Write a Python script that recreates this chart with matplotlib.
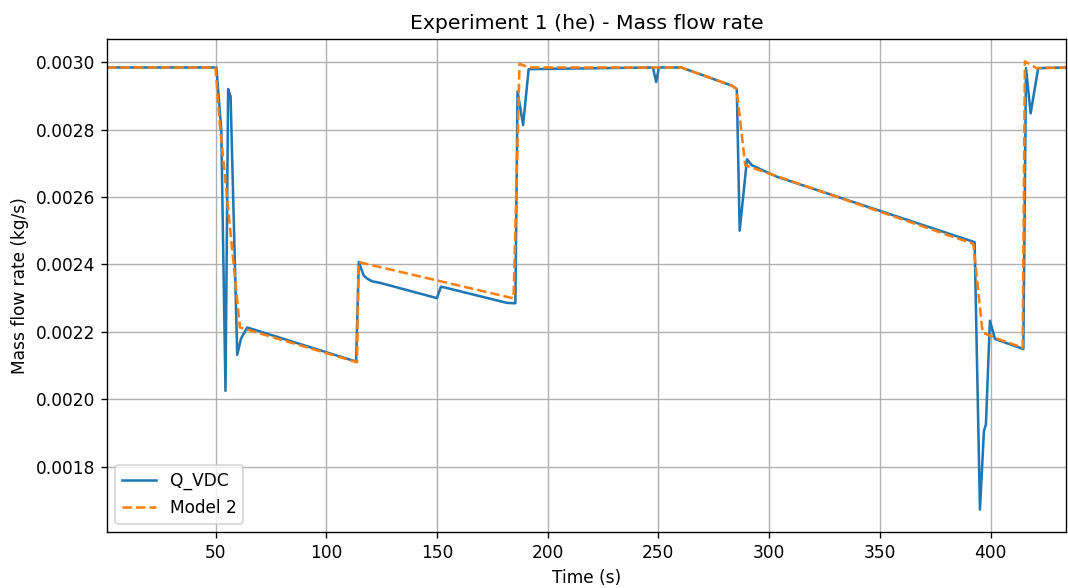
import numpy as np
import matplotlib.pyplot as plt
plt.switch_backend('agg')

t_meas = [1, 50.4, 52.6, 54.5, 55.7, 56.8, 59.8, 61.5, 64.3, 113.5, 114.7,
          116.9, 118.5, 120.7, 124.5, 150, 151.8, 154.5, 181.6, 184.5, 185.4,
          186.4, 188.9, 191.4, 247.5, 249, 250.2, 260.3, 283.2, 285.4, 286.7,
          288.1, 290.0, 292.2, 303.5, 392.8, 395.2, 397.0, 397.9, 399.7, 402.0,
          414.8, 416.0, 418.1, 421.5, 434]
q_meas = [0.002984, 0.002984, 0.002798, 0.002025, 0.002920, 0.002898, 0.002132,
          0.002180, 0.002213, 0.002112, 0.002407, 0.002367, 0.002358, 0.002350,
          0.002345, 0.002300, 0.002334, 0.002330, 0.002286, 0.002285, 0.002285,
          0.002913, 0.002813, 0.002979, 0.002984, 0.002941, 0.002984, 0.002984,
          0.002930, 0.002920, 0.002500, 0.002590, 0.002712, 0.002694, 0.002660,
          0.002466, 0.001673, 0.001906, 0.001926, 0.002233, 0.002179, 0.002149,
          0.002982, 0.002848, 0.002982, 0.002984]

# model 2 prediction
t_mod = [1, 50.0, 51.9, 61.0, 113.9, 114.6, 184.2, 184.6, 187.3, 191.4, 260.3,
         283.2, 285.3, 289.2, 392.2, 396.4, 402.0, 414.5, 415.5, 420.8, 434]
q_mod = [0.002984, 0.002984, 0.002818, 0.002213, 0.002110, 0.002407, 0.002300,
         0.002300, 0.002995, 0.002984, 0.002984, 0.002930, 0.002920, 0.002694,
         0.002461, 0.002198, 0.002182, 0.002153, 0.003002, 0.002982, 0.002984]

dpi = 122
fig, ax = plt.subplots(figsize=(1068 / dpi, 588 / dpi), dpi=dpi)
fig.subplots_adjust(left=0.1002, right=0.998, bottom=0.0952, top=0.9337)
ax.plot(t_meas, q_meas, label='Q_VDC')
ax.plot(t_mod, q_mod, '--', label='Model 2')
ax.set_xlim(min(t_meas), max(t_meas))
ax.set_title('Experiment 1 (he) - Mass flow rate')
ax.set_xlabel('Time (s)')
ax.set_ylabel('Mass flow rate (kg/s)')
ax.grid(True)
ax.legend(loc='lower left')
fig.savefig('out.png', dpi=dpi)
